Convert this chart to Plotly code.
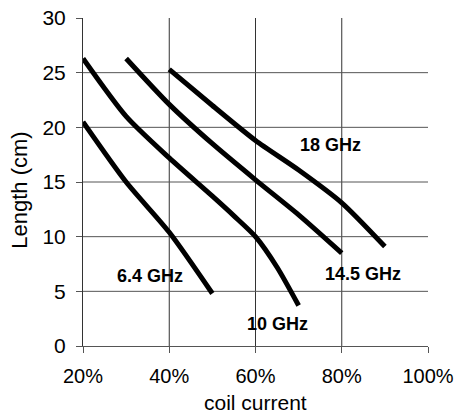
import plotly.graph_objects as go

# Data (coil current in %, length in cm)
x_64 = [20, 30, 40, 50]
y_64 = [20.5, 15.0, 10.4, 4.8]

x_10 = [20, 30, 40, 50, 55, 60, 65, 70]
y_10 = [26.3, 21.0, 17.2, 13.7, 11.9, 10.0, 7.2, 3.7]

x_145 = [30, 40, 50, 60, 70, 80]
y_145 = [26.3, 22.1, 18.5, 15.2, 12.0, 8.5]

x_18 = [40, 50, 60, 70, 80, 90]
y_18 = [25.3, 22.0, 18.8, 16.1, 13.1, 9.1]

series_names = ["6.4 GHz", "10 GHz", "14.5 GHz", "18 GHz"]
label_x = [35.5, 65.0, 85.0, 77.5]
label_y = [6.4, 2.0, 6.6, 18.4]

x_ticks = [20, 40, 60, 80, 100]
x_tick_text = ["20%", "40%", "60%", "80%", "100%"]
y_ticks = [0, 5, 10, 15, 20, 25, 30]
x_grid = [40, 60, 80]
y_grid = [5, 10, 15, 20, 25]

FONT = "Arial, Liberation Sans"

fig = go.Figure()
for xs, ys, nm in [(x_64, y_64, series_names[0]), (x_10, y_10, series_names[1]),
                   (x_145, y_145, series_names[2]), (x_18, y_18, series_names[3])]:
    fig.add_trace(go.Scatter(x=xs, y=ys, mode="lines", name=nm,
                             line=dict(color="black", width=5, shape="spline", smoothing=0.7),
                             showlegend=False))

for nm, lx, ly in zip(series_names, label_x, label_y):
    fig.add_annotation(x=lx, y=ly, text="<b>%s</b>" % nm, showarrow=False,
                       font=dict(family=FONT, size=18, color="black"))

# axis titles
fig.add_annotation(xref="paper", yref="paper", x=0.5, y=-0.172, yanchor="middle",
                   text="coil current", showarrow=False,
                   font=dict(family=FONT, size=21, color="black"))
fig.add_annotation(xref="paper", yref="paper", x=-0.183, y=0.476, xanchor="center",
                   yanchor="middle", textangle=-90, text="Length (cm)", showarrow=False,
                   font=dict(family=FONT, size=22, color="black"))

shapes = []
for gx in x_grid:
    shapes.append(dict(type="line", xref="x", yref="paper", x0=gx, x1=gx, y0=0, y1=1,
                       line=dict(color="#333333", width=1), layer="below"))
for gy in y_grid:
    shapes.append(dict(type="line", xref="paper", yref="y", x0=0, x1=1, y0=gy, y1=gy,
                       line=dict(color="#555555", width=1), layer="below"))
fig.update_layout(shapes=shapes)

fig.update_xaxes(range=[20, 100], tickvals=x_ticks, ticktext=x_tick_text, automargin=False,
                 showgrid=False, zeroline=False, showline=True, linecolor="#555555", linewidth=1,
                 ticks="outside", ticklen=6, tickcolor="#555555",
                 tickfont=dict(family=FONT, size=20, color="black"),
                 ticklabelstandoff=6)
fig.update_yaxes(range=[0, 30], tickvals=y_ticks, automargin=False,
                 showgrid=False, zeroline=False, showline=True, linecolor="#333333", linewidth=1,
                 ticks="outside", ticklen=6, tickcolor="#555555",
                 tickfont=dict(family=FONT, size=21, color="black"),
                 ticklabelstandoff=6)
fig.update_layout(width=459, height=414, margin=dict(l=83, r=31, t=18, b=68),
                  paper_bgcolor="white", plot_bgcolor="white")

fig.write_html("out.html", config={"displayModeBar": False},
               post_script="document.body.style.margin='0';document.body.style.overflow='hidden';")
